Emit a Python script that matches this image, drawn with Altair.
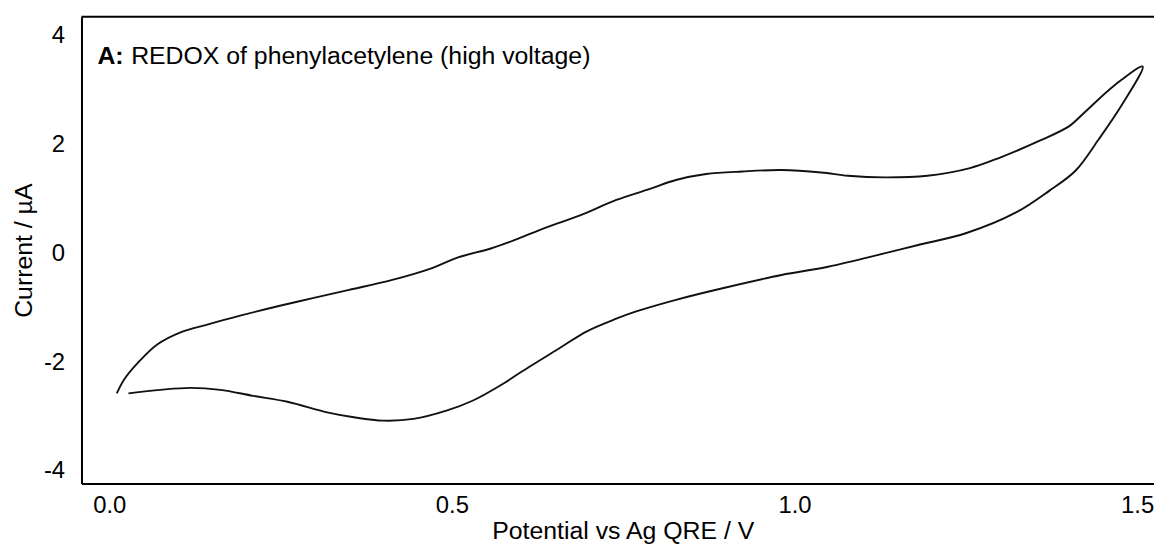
import altair as alt
import pandas as pd

FONT = "Liberation Sans"

# Cyclic voltammogram
lower_potential = [0.028, 0.075, 0.119, 0.162, 0.210, 0.260, 0.318, 0.357, 0.400, 0.444,
                   0.492, 0.530, 0.576, 0.601, 0.658, 0.697, 0.740, 0.769, 0.827, 0.895,
                   0.981, 1.049, 1.131, 1.179, 1.251, 1.324, 1.372, 1.410, 1.444, 1.478, 1.508]
lower_current = [-2.573, -2.507, -2.471, -2.507, -2.617, -2.726, -2.920, -3.011, -3.073, -3.042,
                 -2.891, -2.708, -2.385, -2.179, -1.734, -1.431, -1.199, -1.066, -0.852, -0.639,
                 -0.396, -0.245, 0.000, 0.151, 0.376, 0.759, 1.155, 1.520, 2.099, 2.737, 3.436]
upper_potential = [1.468, 1.420, 1.401, 1.357, 1.300, 1.256, 1.194, 1.131, 1.078, 1.039,
                   0.981, 0.924, 0.871, 0.827, 0.789, 0.740, 0.687, 0.639, 0.591, 0.557,
                   0.509, 0.470, 0.413, 0.350, 0.297, 0.249, 0.191, 0.143, 0.104, 0.070,
                   0.042, 0.022, 0.011]
upper_current = [3.102, 2.555, 2.341, 2.068, 1.763, 1.569, 1.429, 1.398, 1.429, 1.489,
                 1.533, 1.507, 1.460, 1.350, 1.186, 0.985, 0.699, 0.485, 0.243, 0.091,
                 -0.073, -0.274, -0.487, -0.670, -0.821, -0.962, -1.144, -1.308, -1.449, -1.673,
                 -2.007, -2.312, -2.573]

x_ticks = [0.0, 0.5, 1.0, 1.5]
y_ticks = [-4, -2, 0, 2, 4]
panel_label = "A:"
panel_title = "REDOX of phenylacetylene (high voltage)"

potential = lower_potential + upper_potential
current = lower_current + upper_current
df = pd.DataFrame({"potential": potential, "current": current, "idx": list(range(len(potential)))})

W, H = 1080, 470

x_enc = alt.X(
    "potential:Q",
    scale=alt.Scale(domain=[-0.0405, 1.5246], nice=False, zero=False),
    axis=alt.Axis(values=x_ticks, format=".1f", title="Potential vs Ag QRE / V", grid=False,
                  ticks=False, domainColor="black", domainWidth=2, labelFontSize=24,
                  labelPadding=10, titleFontSize=25, titleFontWeight="normal", titlePadding=1,
                  titleX=545, labelColor="black", titleColor="black", labelFont=FONT,
                  titleFont=FONT, labelFlush=False, labelOverlap=False),
)
y_enc = alt.Y(
    "current:Q",
    scale=alt.Scale(domain=[-4.23, 4.35], nice=False, zero=False),
    axis=alt.Axis(values=y_ticks, labelExpr="'' + datum.value", title="Current / µA", grid=False,
                  ticks=False, domainColor="black", domainWidth=2, labelFontSize=24,
                  labelPadding=17, titleFontSize=25, titleFontWeight="normal", titlePadding=7,
                  labelColor="black", titleColor="black", labelFont=FONT, titleFont=FONT,
                  labelFlush=False, labelOverlap=False),
)

line = alt.Chart(df).mark_line(color="#111111", strokeWidth=1.9, interpolate="catmull-rom").encode(
    x=x_enc, y=y_enc, order="idx:Q"
)

top_rule = alt.Chart(pd.DataFrame({"a": [0]})).mark_rule(color="black", strokeWidth=2).encode(
    x=alt.value(0), x2=alt.value(W), y=alt.value(0)
)

label_a = alt.Chart(pd.DataFrame({"t": [panel_label]})).mark_text(
    font=FONT, fontSize=25, fontWeight="bold", align="left", baseline="alphabetic", color="black"
).encode(x=alt.value(16), y=alt.value(48), text="t:N")

label_rest = alt.Chart(pd.DataFrame({"t": [panel_title]})).mark_text(
    font=FONT, fontSize=25, fontWeight="normal", align="left", baseline="alphabetic", color="black"
).encode(x=alt.value(50), y=alt.value(48), text="t:N")

chart = alt.layer(line, top_rule, label_a, label_rest).properties(
    width=W, height=H,
    autosize=alt.AutoSizeParams(type="none"),
    padding={"left": 74, "top": 7, "right": 0, "bottom": 62},
    background="white",
).configure_view(stroke=None)

chart.save("out.html", embed_options={"renderer": "svg", "actions": False})
